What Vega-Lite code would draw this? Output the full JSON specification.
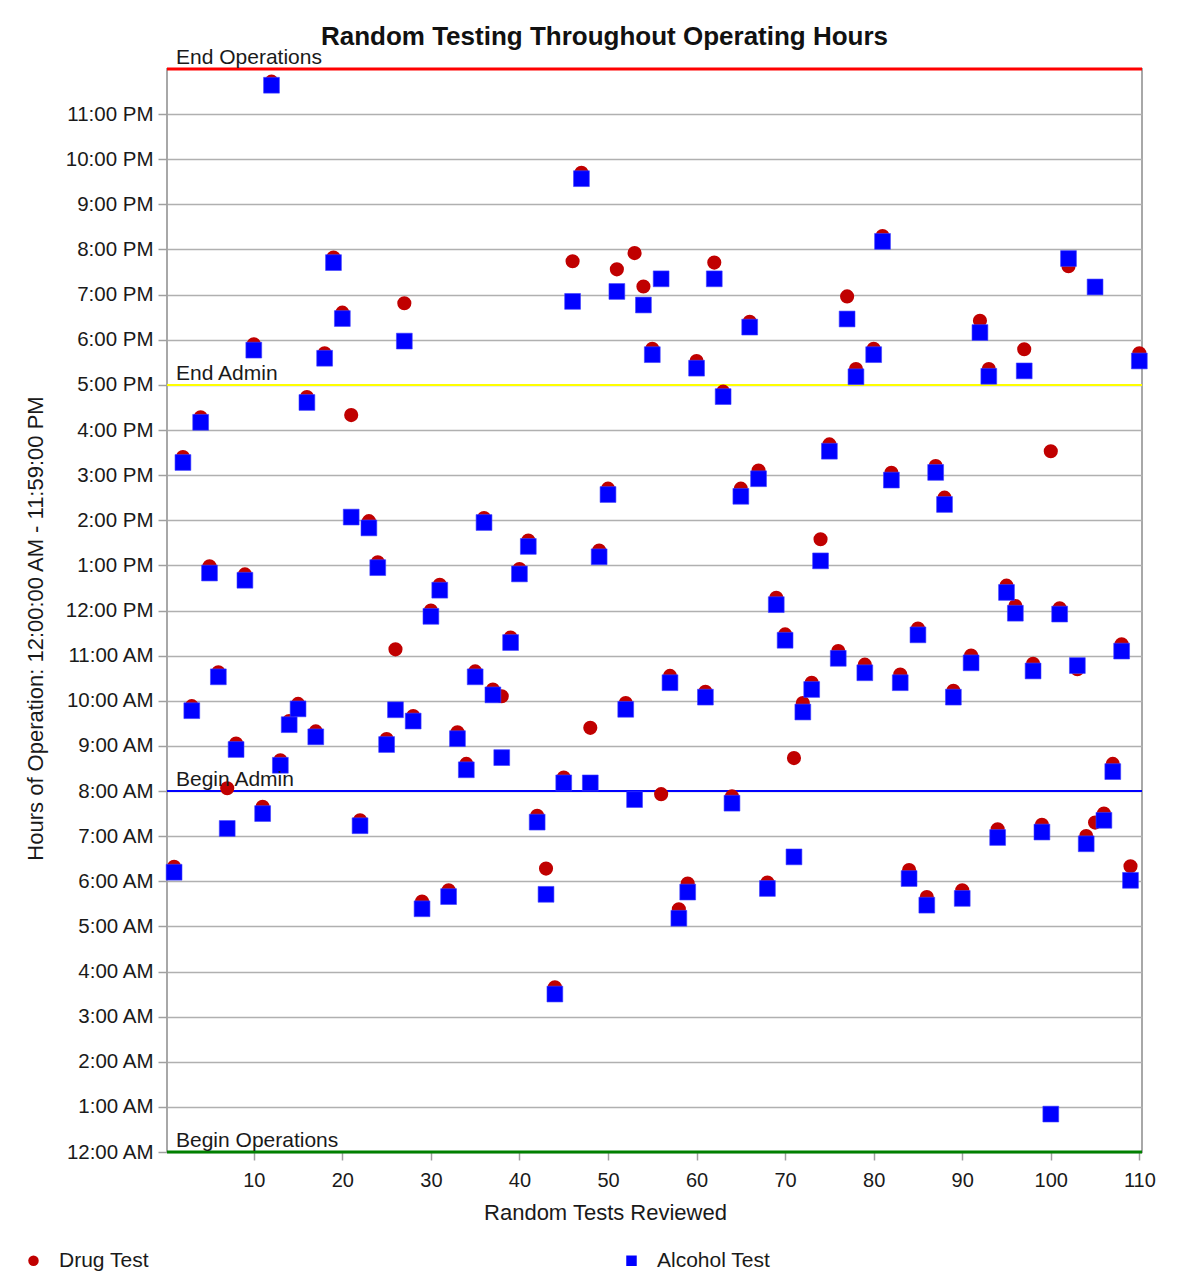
{
  "$schema": "https://vega.github.io/schema/vega-lite/v6.json",
  "width": 975,
  "height": 1083,
  "autosize": {"type": "none"},
  "padding": {"left": 167, "top": 69, "right": 56, "bottom": 122},
  "background": "white",
  "config": {
    "font": "Liberation Sans",
    "view": {"stroke": "#a8a8a8", "strokeWidth": 2},
    "axis": {
      "labelFont": "Liberation Sans",
      "titleFont": "Liberation Sans",
      "labelColor": "#1a1a1a",
      "titleColor": "#1a1a1a",
      "titleFontWeight": "normal",
      "tickColor": "#a0a0a0",
      "tickWidth": 1.5,
      "domain": false
    }
  },
  "title": {
    "text": "Random Testing Throughout Operating Hours",
    "fontSize": 26,
    "font": "Liberation Sans",
    "fontWeight": "bold",
    "color": "#111111",
    "anchor": "middle",
    "frame": "group",
    "dx": -50,
    "dy": 25,
    "offset": 22
  },
  "data": {
    "values": [
      {"i":1,"drug":6.32,"alcohol":6.2},
      {"i":2,"drug":15.4,"alcohol":15.28},
      {"i":3,"drug":9.88,"alcohol":9.78},
      {"i":4,"drug":16.28,"alcohol":16.17},
      {"i":5,"drug":12.98,"alcohol":12.83},
      {"i":6,"drug":10.63,"alcohol":10.53},
      {"i":7,"drug":8.06,"alcohol":7.17},
      {"i":8,"drug":9.05,"alcohol":8.92},
      {"i":9,"drug":12.8,"alcohol":12.67},
      {"i":10,"drug":17.9,"alcohol":17.77},
      {"i":11,"drug":7.65,"alcohol":7.5},
      {"i":12,"drug":23.72,"alcohol":23.64},
      {"i":13,"drug":8.68,"alcohol":8.57},
      {"i":14,"drug":9.55,"alcohol":9.47},
      {"i":15,"drug":9.93,"alcohol":9.82},
      {"i":16,"drug":16.73,"alcohol":16.61},
      {"i":17,"drug":9.32,"alcohol":9.2},
      {"i":18,"drug":17.7,"alcohol":17.59},
      {"i":19,"drug":19.82,"alcohol":19.71},
      {"i":20,"drug":18.6,"alcohol":18.47},
      {"i":21,"drug":16.33,"alcohol":14.07},
      {"i":22,"drug":7.35,"alcohol":7.23},
      {"i":23,"drug":13.98,"alcohol":13.83},
      {"i":24,"drug":13.07,"alcohol":12.95},
      {"i":25,"drug":9.15,"alcohol":9.03},
      {"i":26,"drug":11.14,"alcohol":9.8},
      {"i":27,"drug":18.81,"alcohol":17.97},
      {"i":28,"drug":9.66,"alcohol":9.55},
      {"i":29,"drug":5.55,"alcohol":5.39},
      {"i":30,"drug":12.0,"alcohol":11.87},
      {"i":31,"drug":12.57,"alcohol":12.45},
      {"i":32,"drug":5.8,"alcohol":5.66},
      {"i":33,"drug":9.3,"alcohol":9.16},
      {"i":34,"drug":8.6,"alcohol":8.47},
      {"i":35,"drug":10.65,"alcohol":10.53},
      {"i":36,"drug":14.05,"alcohol":13.95},
      {"i":37,"drug":10.25,"alcohol":10.13},
      {"i":38,"drug":10.1,"alcohol":8.74},
      {"i":39,"drug":11.4,"alcohol":11.29},
      {"i":40,"drug":12.92,"alcohol":12.81},
      {"i":41,"drug":13.55,"alcohol":13.42},
      {"i":42,"drug":7.45,"alcohol":7.31},
      {"i":43,"drug":6.28,"alcohol":5.71},
      {"i":44,"drug":3.65,"alcohol":3.5},
      {"i":45,"drug":8.3,"alcohol":8.18},
      {"i":46,"drug":19.74,"alcohol":18.85},
      {"i":47,"drug":21.7,"alcohol":21.57},
      {"i":48,"drug":9.4,"alcohol":8.18},
      {"i":49,"drug":13.33,"alcohol":13.19},
      {"i":50,"drug":14.7,"alcohol":14.57},
      {"i":51,"drug":19.56,"alcohol":19.07},
      {"i":52,"drug":9.95,"alcohol":9.81},
      {"i":53,"drug":19.92,"alcohol":7.81},
      {"i":54,"drug":19.18,"alcohol":18.77},
      {"i":55,"drug":17.8,"alcohol":17.67},
      {"i":56,"drug":7.93,"alcohol":19.35},
      {"i":57,"drug":10.55,"alcohol":10.4},
      {"i":58,"drug":5.38,"alcohol":5.18},
      {"i":59,"drug":5.95,"alcohol":5.76},
      {"i":60,"drug":17.53,"alcohol":17.37},
      {"i":61,"drug":10.2,"alcohol":10.08},
      {"i":62,"drug":19.71,"alcohol":19.35},
      {"i":63,"drug":16.85,"alcohol":16.74},
      {"i":64,"drug":7.88,"alcohol":7.73},
      {"i":65,"drug":14.7,"alcohol":14.53},
      {"i":66,"drug":18.4,"alcohol":18.28},
      {"i":67,"drug":15.1,"alcohol":14.92},
      {"i":68,"drug":5.97,"alcohol":5.84},
      {"i":69,"drug":12.28,"alcohol":12.13},
      {"i":70,"drug":11.47,"alcohol":11.34},
      {"i":71,"drug":8.73,"alcohol":6.54},
      {"i":72,"drug":9.95,"alcohol":9.75},
      {"i":73,"drug":10.4,"alcohol":10.25},
      {"i":74,"drug":13.58,"alcohol":13.1},
      {"i":75,"drug":15.68,"alcohol":15.53},
      {"i":76,"drug":11.1,"alcohol":10.94},
      {"i":77,"drug":18.96,"alcohol":18.46},
      {"i":78,"drug":17.35,"alcohol":17.18},
      {"i":79,"drug":10.8,"alcohol":10.62},
      {"i":80,"drug":17.8,"alcohol":17.67},
      {"i":81,"drug":20.3,"alcohol":20.18},
      {"i":82,"drug":15.05,"alcohol":14.89},
      {"i":83,"drug":10.58,"alcohol":10.4},
      {"i":84,"drug":6.25,"alcohol":6.06},
      {"i":85,"drug":11.6,"alcohol":11.46},
      {"i":86,"drug":5.65,"alcohol":5.47},
      {"i":87,"drug":15.2,"alcohol":15.06},
      {"i":88,"drug":14.5,"alcohol":14.35},
      {"i":89,"drug":10.22,"alcohol":10.08},
      {"i":90,"drug":5.8,"alcohol":5.62},
      {"i":91,"drug":11.0,"alcohol":10.84},
      {"i":92,"drug":18.42,"alcohol":18.16},
      {"i":93,"drug":17.35,"alcohol":17.19},
      {"i":94,"drug":7.15,"alcohol":6.97},
      {"i":95,"drug":12.55,"alcohol":12.4},
      {"i":96,"drug":12.1,"alcohol":11.94},
      {"i":97,"drug":17.79,"alcohol":17.31},
      {"i":98,"drug":10.82,"alcohol":10.66},
      {"i":99,"drug":7.25,"alcohol":7.09},
      {"i":100,"drug":15.53,"alcohol":0.84},
      {"i":101,"drug":12.05,"alcohol":11.92},
      {"i":102,"drug":19.63,"alcohol":19.8},
      {"i":103,"drug":10.7,"alcohol":10.78},
      {"i":104,"drug":7.0,"alcohol":6.83},
      {"i":105,"drug":7.3,"alcohol":19.17},
      {"i":106,"drug":7.5,"alcohol":7.35},
      {"i":107,"drug":8.6,"alcohol":8.43},
      {"i":108,"drug":11.25,"alcohol":11.1},
      {"i":109,"drug":6.33,"alcohol":6.02},
      {"i":110,"drug":17.7,"alcohol":17.53}
    ]
  },
  "layer": [
    {
      "data": {"values": [{}]},
      "mark": {"type": "rule", "color": "#ffff00", "strokeWidth": 2},
      "encoding": {"y": {"datum": 17, "type": "quantitative"}}
    },
    {
      "data": {"values": [{}]},
      "mark": {"type": "rule", "color": "#0000ff", "strokeWidth": 2},
      "encoding": {"y": {"datum": 8, "type": "quantitative"}}
    },
    {
      "mark": {"type": "point", "filled": true, "opacity": 1, "size": 200, "strokeWidth": 0},
      "encoding": {
        "x": {
          "field": "i",
          "type": "quantitative",
          "scale": {"domain": [0.2, 110.3], "nice": false, "zero": false},
          "axis": {
            "values": [10, 20, 30, 40, 50, 60, 70, 80, 90, 100, 110],
            "grid": false,
            "tickSize": 8,
            "labelFontSize": 20,
            "labelPadding": 10,
            "title": "Random Tests Reviewed",
            "titleFontSize": 22,
            "titlePadding": 12,
            "titleX": 438
          }
        },
        "y": {
          "field": "drug",
          "type": "quantitative",
          "scale": {"domain": [0, 24], "nice": false},
          "axis": {
            "values": [0, 1, 2, 3, 4, 5, 6, 7, 8, 9, 10, 11, 12, 13, 14, 15, 16, 17, 18, 19, 20, 21, 22, 23],
            "labelExpr": "datum.value == 0 ? '12:00 AM' : datum.value < 12 ? datum.value + ':00 AM' : datum.value == 12 ? '12:00 PM' : (datum.value - 12) + ':00 PM'",
            "grid": true,
            "gridColor": "#b0b0b0",
            "gridWidth": 1.5,
            "tickSize": 9,
            "labelFontSize": 20.5,
            "labelPadding": 5,
            "title": "Hours of Operation: 12:00:00 AM - 11:59:00 PM",
            "titleFontSize": 22,
            "titlePadding": 18,
            "titleY": 559
          }
        },
        "color": {
          "datum": "Drug Test",
          "type": "nominal",
          "scale": {"domain": ["Drug Test", "Alcohol Test"], "range": ["#c00000", "#0000ff"]},
          "legend": {
            "orient": "none",
            "legendX": -144,
            "legendY": 1181,
            "direction": "horizontal",
            "title": null,
            "labelFontSize": 21,
            "labelColor": "#1a1a1a",
            "labelOffset": 15,
            "symbolSize": 110,
            "columnPadding": 472
          }
        },
        "shape": {
          "datum": "Drug Test",
          "type": "nominal",
          "scale": {"domain": ["Drug Test", "Alcohol Test"], "range": ["circle", "square"]},
          "legend": null
        }
      }
    },
    {
      "mark": {"type": "point", "filled": true, "opacity": 1, "size": 250, "stroke": "#4040ff", "strokeWidth": 0.6},
      "encoding": {
        "x": {"field": "i", "type": "quantitative"},
        "y": {"field": "alcohol", "type": "quantitative"},
        "color": {"datum": "Alcohol Test", "type": "nominal"},
        "shape": {"datum": "Alcohol Test", "type": "nominal"}
      }
    },
    {
      "data": {"values": [{}]},
      "mark": {"type": "rule", "color": "#ff0000", "strokeWidth": 3},
      "encoding": {"y": {"datum": 24, "type": "quantitative"}}
    },
    {
      "data": {"values": [{}]},
      "mark": {"type": "rule", "color": "#008000", "strokeWidth": 3},
      "encoding": {"y": {"datum": 0, "type": "quantitative"}}
    },
    {
      "data": {
        "values": [
          {"label": "End Operations", "hour": 24},
          {"label": "End Admin", "hour": 17},
          {"label": "Begin Admin", "hour": 8},
          {"label": "Begin Operations", "hour": 0}
        ]
      },
      "mark": {"type": "text", "align": "left", "baseline": "bottom", "dx": 9, "dy": -1, "fontSize": 21, "font": "Liberation Sans", "color": "#1a1a1a"},
      "encoding": {
        "x": {"datum": 0.2, "type": "quantitative"},
        "y": {"field": "hour", "type": "quantitative"},
        "text": {"field": "label"}
      }
    }
  ]
}
